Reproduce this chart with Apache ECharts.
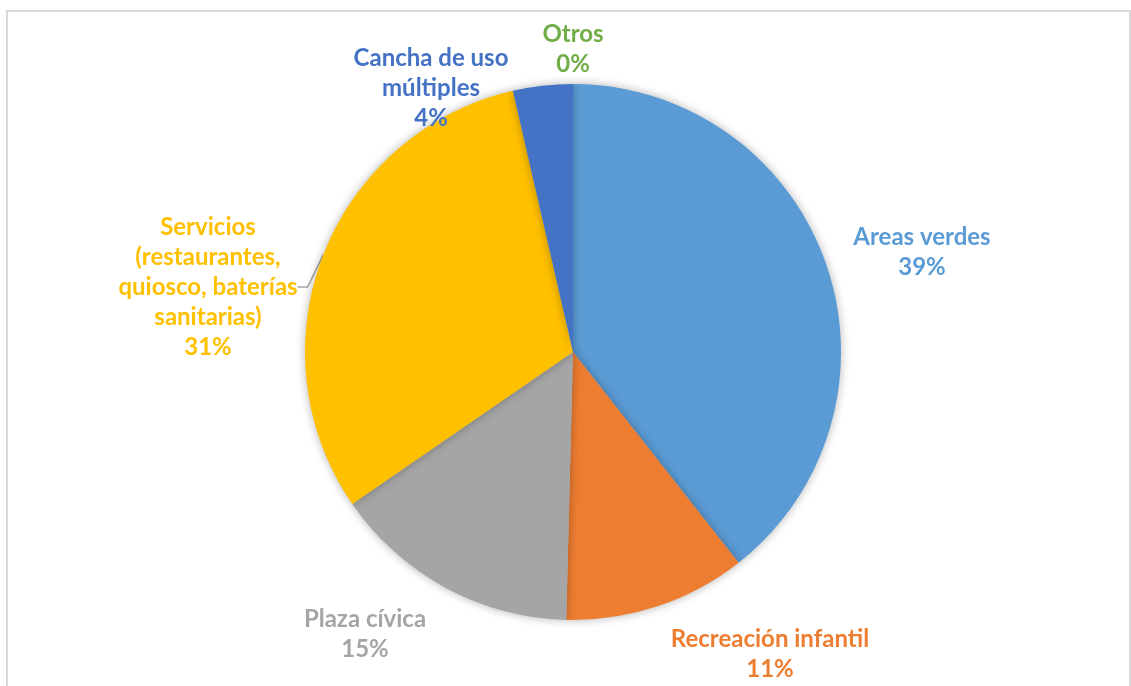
<!DOCTYPE html>
<html>
<head>
<meta charset="utf-8">
<script src="https://cdn.jsdelivr.net/npm/echarts@6/dist/echarts.min.js"></script>
<style>
html,body{margin:0;padding:0;background:#fff;}
#chart{width:1131px;height:686px;}
</style>
</head>
<body>
<div id="chart"></div>
<script>
const categories = ['Areas verdes', 'Recreación infantil', 'Plaza cívica', 'Servicios\n(restaurantes,\nquiosco, baterías\nsanitarias)', 'Cancha de uso\nmúltiples', 'Otros'];
const values = [39.4, 11.0, 15.0, 31.0, 3.6, 0];
const colors = ['#5B9BD5', '#ED7D31', '#A5A5A5', '#FFC000', '#4472C4', '#70AD47'];
const labelPos = [[922, 252], [770, 654], [365, 634], [208, 287], [431, 88], [573, 49]];

const chart = echarts.init(document.getElementById('chart'), null, {renderer: 'canvas'});
chart.setOption({
  animation: false,
  backgroundColor: '#fff',
  graphic: [{
    type: 'rect', silent: true, z: -1,
    shape: {x: 7, y: 11, width: 1123, height: 700},
    style: {fill: 'none', stroke: '#d9d9d9', lineWidth: 2}
  }],
  series: [{
    type: 'pie',
    center: [573, 352],
    radius: 268,
    startAngle: 90,
    clockwise: true,
    percentPrecision: 0,
    avoidLabelOverlap: false,
    data: categories.map((c, i) => ({
      name: c, value: values[i],
      itemStyle: {color: colors[i]},
      label: {color: colors[i]},
      labelLine: {show: i === 3}
    })),
    itemStyle: {shadowBlur: 10, shadowColor: 'rgba(0,0,0,0.3)', borderWidth: 0},
    label: {
      show: true,
      position: 'outside',
      formatter: '{b}\n{d}%',
      fontFamily: 'Lato',
      fontWeight: 'bold',
      fontSize: 24,
      lineHeight: 30,
      align: 'center'
    },
    labelLine: {lineStyle: {color: '#a6a6a6', width: 1.5}, length: 10, length2: 10},
    labelLayout: function (p) {
      const pos = labelPos[p.dataIndex];
      return {x: pos[0], y: pos[1], align: 'center', verticalAlign: 'middle'};
    }
  }]
});
</script>
</body>
</html>
